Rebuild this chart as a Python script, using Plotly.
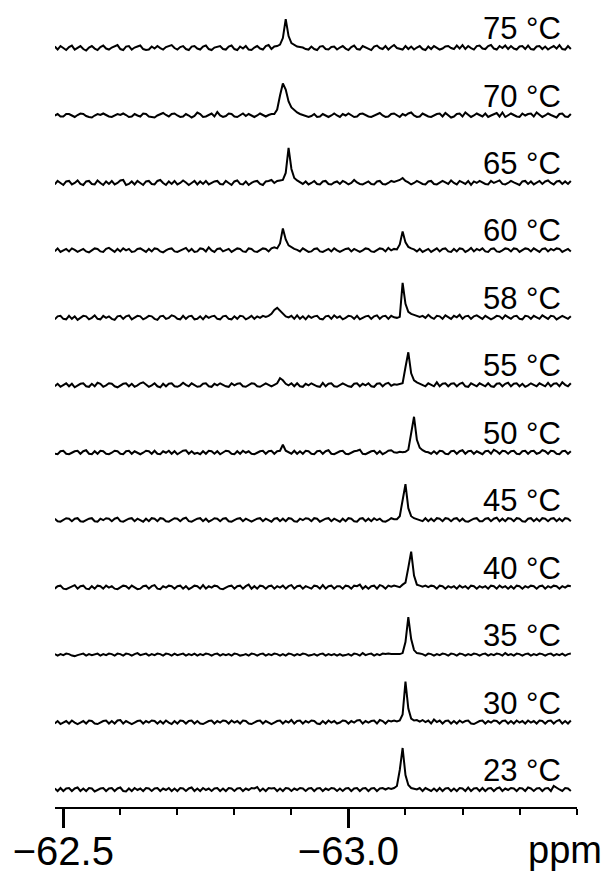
import numpy as np
import plotly.graph_objects as go

# 19F NMR spectra recorded at different temperatures (stacked, bottom = lowest T)
PPM_START = -62.485   # chemical shift of the first sample
PPM_STEP = -0.005     # spacing between samples (ppm)

temperatures = [23, 30, 35, 40, 45, 50, 55, 58, 60, 65, 70, 75]

tick_values = [-62.5, -63.0]
tick_labels = ["\u221262.5", "\u221263.0"]

spec_75 = [
    1.5, -1.5, 2, -0.5, -2, 1, 2.5, -1.5, 0.5, 2,
    -1, -2.5, 0.5, 2, -0.5, -2, 1, 2.5, -0.5, -1.5,
    0.5, 2, 3, -1, -2, 1.5, 2, -1.5, 0.5, 1.5,
    2.5, -1, -2, -1.5, 1.5, -0.5, 2, 0, -1.5, 1,
    2, 3, 0, -1.5, 1, 2, -1, -2, 1.5, 2,
    -0.5, -1.5, 1.5, 2.5, -1, -2, 0.5, 1.5, 2, -1,
    -1.5, 1.5, 2.5, -1, -2, 1.5, -0.5, 2, -1.5, -2,
    0.5, 2, -0.5, -1.5, 2, 3, -1, 1.5, 2, 3.5,
    10, 29, 12, 5, 3, 1.5, 1, 0.5, -1, -1.5,
    1.5, -1, -2, 1.5, 2, -1, -1.5, 1, 1.5, -1.5,
    0.5, 2, -0.5, -2, 1, 2.5, -1, -1.5, 2, 0.5,
    -1, -2, 1.5, 2.5, 0, -1, 2, -1.5, 1, 3,
    0, -1, -1.5, 2, -1, 1.5, -1.5, 0.5, 2, -1,
    -2, 1.5, -1, 2, 0.5, -1.5, -0.5, 1.5, 2, 0,
    -1, 2.5, -0.5, 3, -1, 2, 0, -1.5, 2, 2.5,
    -0.5, -1, 2, 3, -0.5, -1.5, 2, 0, 2.5, -1,
    2, -0.5, -1.5, 1.5, 2, -1, 2.5, -1, -1.5, 1.5,
    2, -1, 1.5, -1.5, 0.5, 2, -0.5, 3, -1, -1.5,
    2, -1,
]

spec_70 = [
    0, 1.5, -1, -1, 1.5, 1.5, 0, -1.5, 0.5, 2,
    1.5, -0.5, -1.5, -2, 0, 1.5, 0.5, 2, 0.5, -1,
    -1.5, 0, 1.5, 0.5, 2, 0.5, -1.5, -1, 1.5, 0,
    -1, 2, 1.5, -1, -1.5, -2, 0, 1.5, 2.5, 0.5,
    -1, 1.5, 2, 0, -1.5, -1, 1.5, 0, -2, -0.5,
    3, 1.5, -1.5, -1, 0.5, 2, -1, 3.5, 0, -1.5,
    -0.5, 2, 1.5, -1, -1.5, 0.5, 2, -0.5, 1.5, 0,
    -1.5, 0, 2, 0.5, -1, 0.5, 1.5, 1.5, 6, 20,
    32, 26, 14, 8, 5, 3, 1.5, 0.5, -1, -1.5,
    -0.5, 1.5, -1.5, -1, 1.5, 0, -1.5, 0, 2, 0,
    -1.5, 1.5, 0, 2, 0, -1.5, -1, 1.5, 2, 0.5,
    -1, -1.5, 0, 1.5, 2.5, 0, -1.5, -1, 1.5, 2,
    0, -1.5, 1.5, 0, 2, 3, 0, -1.5, -1, 2,
    0.5, -1, -1.5, 0, 1.5, 2, -1, 2.5, 0.5, -2,
    -1, 1.5, 2, -1, 3, 0.5, -1.5, 0, 2, 0.5,
    -1, 2, -1.5, 0, 1.5, 2.5, -1, 3, -1.5, 0,
    2, 0.5, -1, -1.5, 2, 0, 1.5, 2, -1, 3,
    0.5, -1.5, 0, 2, 0.5, -1, -2, 1.5, 2, -1,
    -1.5, 1.5,
]

spec_65 = [
    -1.5, 2, 0, -2, 1.5, 2, -1.5, 0, 2.5, -1,
    -2, 1.5, 2, -1, -1.5, 2.5, 0, -2, 1.5, -1,
    2, -1.5, 0, 2.5, 3, -2, -1, 1.5, -1.5, 2,
    0, -2, 1.5, 2, -1, -1.5, 2, 3, 0, -2,
    1.5, -1, 2, -1.5, 0, 2.5, 0.5, -2, 0, 2,
    -1.5, 1.5, -1, 2, -1.5, 0, 1.5, 2, -1, -1.5,
    2, 0, -2, 1.5, 2.5, -1, -1.5, 1.5, -2, 0,
    1.5, 2, -1, -2, 1.5, 2, 3, 0, 2, 2.5,
    3, 10, 35, 14, 5, 2.5, 1, -1, 1.5, -1.5,
    0, 2, -1, -1.5, 1.5, 2, -1, -1.5, 0.5, 1.5,
    -1, 2, 0.5, -1.5, 0, 3, 0.5, -1, -1.5, 0,
    1.5, -1, -1.5, 1.5, 2, -1, -1.5, 0, 2, 1,
    2, 3, 5, 2, 0.5, -1.5, 0, 2, 0.5, -1,
    -1.5, 1.5, 2, -1, -1.5, 0, 2, 0.5, -1, 2.5,
    0, -1.5, 2, 0.5, -1, 2, -2, 1.5, 0, 2,
    0.5, -1, -1.5, 2, 0, 1.5, 2.5, -1, -1.5, 0,
    2, 0.5, -1, -2, 1.5, 2, -1, 1.5, -1.5, 0,
    2, -1, 1.5, 2.5, 0, -1.5, 1.5, 2, -1, 1.5,
    -1, 2,
]

spec_60 = [
    -1, 2, -1.5, 0, 1.5, -1, 2, 0.5, -1.5, 0,
    1.5, -1, -2, 0, 2, 1.5, -1, -1.5, 1.5, 2.5,
    0, -1.5, 1.5, -1, 2, 0, 1.5, -1.5, -1, 1.5,
    2, 0, -1.5, 1.5, -1, 2, 1.5, -1, -2, 0,
    1.5, 2, -1, -1.5, 0, 1.5, 2.5, -1, 1.5, -1.5,
    -1, 2, 1.5, -1, 3, 0, -1.5, 1.5, 2, -1,
    0, 1.5, -1.5, 0, 2, 1.5, -1, -1.5, 2, 1.5,
    -1, -1.5, 0, 2, 1.5, -1, 2, 3, 2, 7,
    22, 11, 5, 3, 1.5, 0.5, -1, 2, 0, -1.5,
    -1, 1.5, 2, -1, -1.5, 0, 1.5, -1, 2, 0,
    -1.5, 0, 1.5, 2, -1, 1.5, 0, -1.5, 0, 2,
    1.5, -1, -1.5, 0, 2, 1.5, -1, 2.5, 0, 1.5,
    1, 6, 19, 8, 3.5, 2, 1, -1, 1.5, -1.5,
    0, 1.5, -1.5, 0, 2, -1, 1.5, 2, -1, -1.5,
    1.5, -1, 2, 1.5, -1.5, 0, 2.5, -1, 1.5, 0,
    2, -1, -1.5, 1.5, 2, -1, -1.5, 0, 2, 1.5,
    -1, 2, 1.5, -1.5, 0, 2, 1.5, -1, 2, 0,
    -1.5, 1.5, 2, -1, 1.5, 0, 2, 1.5, -1.5, 0,
    1.5, -1,
]

spec_58 = [
    -1.5, 1.5, 2, -1, -1.5, 2, -1, 1.5, -2, 0,
    2, 1.5, -1.5, 0, 2.5, -1, -1.5, 2, 0, 1.5,
    -1, -2, 1.5, 2, -1, 1.5, 2.5, -1.5, 0, 2,
    1.5, -1.5, 0, 2, 1.5, -1, -2, 1.5, 2, -1,
    0, 2.5, 1.5, -1, -1.5, 2, -1, 1.5, 2, -1.5,
    -1, 1.5, -1.5, 2, 0, 1.5, 2, -1, -1.5, 1.5,
    2, -1, -1.5, 1.5, -1, 2, 1.5, -1.5, 0, 2,
    -1, 1.5, 0, 2, 1, 2, 4, 8, 10, 7,
    4, 1.5, 0.5, 2, -1, 2.5, -1, 1.5, -1.5, 2,
    0, 1.5, 2, -1, -1.5, 1.5, 2, -1, 2.5, 0,
    1.5, -1.5, 0, 2, 1.5, -1, 2, -1.5, 0, 1.5,
    2, -1, 1.5, 2.5, -1, 1.5, 2, -1, 2, 0.5,
    0, 1, 35, 14, 6, 4, 3, 2, 1, 2,
    0, 3, 0.5, -1, 2, 1.5, -1, 2.5, 0.5, -1,
    2, 0.5, 3, -1, 1.5, 2, -1, 1.5, 2.5, 0.5,
    -1, 2, 0.5, -1.5, 0, 2, 1.5, -1, 2.5, 0.5,
    -1, 1.5, 2, -1, -1.5, 2, 1.5, -1, 2, 0.5,
    -1, 2.5, 0.5, -1, 2, 1.5, -1.5, 0, 2, 0.5,
    -1, 1.5,
]

spec_55 = [
    -1, 1.5, -1.5, 0, 2, -1, 1.5, -2, 0, 1.5,
    2, -1, -1.5, 1.5, -1, 2.5, 1.5, -1.5, 0, 2,
    1.5, -1, -2, 0, 1.5, 2, -1, 1.5, -1.5, 0,
    2, 3, 0.5, -1.5, 0, 2, -1, -2, 1.5, -1,
    1.5, 2, -1, -1.5, 0, 2.5, 0.5, -1, 2, 0,
    -1.5, -1, 1.5, 2, -1, -1.5, 1.5, 0, 2, 0.5,
    -1, -1.5, 2, 0, 1.5, 2, -1, -1.5, 0, 2,
    1.5, -1, -1.5, 0, 2, 0.5, -1, 0.5, 2, 7,
    5, 1.5, 0, 2, -1, 2, -1, -1.5, 1.5, 0,
    2, 0.5, -1, -1.5, 2.5, -1, 1.5, 2, -1, -1.5,
    0, 2, 0.5, -1, -1.5, 1.5, 2, -1, 1.5, 0,
    2, -1, -1.5, 1.5, 2, -1, 1.5, 2.5, -0.5, 1,
    0.5, 1, 2, 18, 33, 12, 5, 3, 1.5, 0.5,
    -1, 2, 0.5, -1, 3, -1, 1.5, 2, -1, 1.5,
    2, -1, 1.5, 2.5, -1, -1.5, 2, 0.5, -1, 2,
    0.5, -1, 2, -1, -1.5, 1.5, 2, -1, 1.5, 2.5,
    -1, 1.5, 2, -1, 1.5, -1.5, 0, 2, 0.5, -1,
    2, 0.5, -1, 2.5, -1, 1.5, 2, -1, 3, 0.5,
    -1, 2,
]

spec_50 = [
    -1, -1.5, 1.5, 2, -1, -1.5, 0, 1.5, 2, -1,
    1.5, 2.5, -1, -1.5, 1.5, -1, 2, 1.5, -1, -1.5,
    0, 2, 1.5, -1, -1.5, 1.5, 2, -1, 1.5, 0,
    -1.5, 0, 2, 1.5, -1, 2, -1, -1.5, 1.5, 0,
    2, -1, 1.5, -1.5, 0, 2, 2.5, -1, 1.5, -1,
    0, -1.5, 1.5, -1, 2, 1.5, -1, 1.5, -1.5, 0,
    2, 1.5, -1, -1.5, 1.5, -1, 2, 0, 1.5, -1,
    -1.5, 0, 1.5, 2, -1, 1.5, 2, -1, 1.5, 2,
    8, 2, 0.5, -1, 2, -1, 1.5, -1, 2, 1.5,
    -1, -1.5, 1.5, 2, -1, 1.5, 2.5, -1, -1.5, 0,
    1.5, 2, -1, -1.5, 0, 1.5, 2, 3, -1, -1.5,
    0, 1.5, 2, -1, 1.5, -1.5, 0, 2, 2.5, 0.5,
    0, 1, 0.5, 1, 3, 20, 36, 13, 5, 2.5,
    1, 0.5, -1, 1.5, -1, 2, 1.5, -1, -1.5, 1.5,
    2, -1, 1.5, 2.5, -1, 1.5, 2, -1, 1.5, 0,
    -1.5, 1.5, 2, -1, 3, 1.5, -1, 2, 1.5, -1,
    1.5, 2, -1, -1.5, 1.5, 2, -1, 1.5, 2, -1,
    0, 2.5, 1.5, -1, 2, 1.5, -1, -1.5, 1.5, 2,
    -1, 1.5,
]

spec_45 = [
    1.5, -1, -1.5, 0, 2, 1.5, -1, 1.5, 2, -1,
    -1.5, 0, 1.5, 2, -1, -1.5, 1.5, 0, 2, 1.5,
    -1, 1.5, 2.5, -1, -1.5, 0, 1.5, 2, -1, 1.5,
    0, -1.5, 1.5, -1, 2, 1.5, -1, 2, 1.5, -1,
    -1.5, 0, 2, 1.5, -1, 1.5, 2.5, -1, -1.5, 0,
    1.5, 2, -1, 1.5, -1.5, 0, 2, 1.5, -1, 1.5,
    2, -1, -1.5, 0, 1.5, 2, -1, 1.5, 0, -1.5,
    0, 1.5, 2, -1, 1.5, 0, -1.5, 1.5, 2, -1,
    1.5, -1, 2, 1.5, -1, -1.5, 1.5, 0, 2, 1.5,
    -1, 2, 1.5, -1.5, 0, 1.5, 2, -1, 1.5, 0,
    -1.5, 1.5, -1, 2, 1.5, -1, -1.5, 1.5, 2, -1,
    1.5, -1, 2, 0, 1.5, -1, -1.5, 0, 2, 1,
    1, 4, 19, 36, 12, 4, 2, 1, 0.5, -1,
    2, -1, 1.5, -1, 2, 1.5, -1, 2, 1.5, -1,
    1.5, 2, -1, 1.5, -1, -1.5, 0, 1.5, 2, -1,
    -1, 1.5, 2, -1, 1.5, 2.5, -1, 1.5, -1, 2,
    1.5, -1, 2, 1.5, -1, -1.5, 1.5, 2, -1, 1.5,
    -1, 2, 1.5, -1, 1.5, 2, -1, 1.5, -1, 2,
    1.5, -1,
]

spec_40 = [
    -1, 1.5, 2, -1, -1.5, 0, 1.5, 2.5, -1, 1.5,
    2, -1, -1.5, 1.5, -1, 2, 1.5, -1, 2, 0,
    1.5, -1, -1.5, 0, 2, 1.5, -1, 2, 0, -1.5,
    -1, 1.5, 2, -1, 1.5, 2.5, -1, -1.5, 1.5, 0,
    2, 1.5, -1, 1.5, 2, -1, 1.5, -1.5, 0, 2,
    1.5, -1, 2.5, -1, 1.5, 0, 2, 1.5, -1, -1.5,
    0, 1.5, 2, -1, 1.5, 2, -1, 1.5, 3, -1,
    1.5, -1, 2, 1.5, -1, 1.5, 2, -1, 1.5, 0,
    2, -1, 1.5, 2.5, -1, 1.5, 2, -1, 1.5, 0,
    -1, 2, 1.5, -1, 2.5, -1, 1.5, 2, -1, 1.5,
    1.5, -1, 2, 1.5, -1, 2, 1.5, 3, -1, 1.5,
    -1, 1.5, 2, -1, 2.5, 1.5, -1, 2, 1, 2,
    1, 0.5, 3, 5, 20, 36, 12, 3, 2, 1,
    2, 0.5, 2, 1.5, -1, 2, 1.5, -1, 1.5, 0,
    1.5, -1, 2, 0, 1.5, -1, 2, 1.5, -1, 1.5,
    0, 1.5, -1, 2, 1.5, -1, 2, 0, 1.5, -1,
    1.5, -1, 2, 1.5, -1, 1.5, 0, 2, 1.5, -1,
    1.5, 2, -1, 1.5, 0, 2, 1.5, -1, 1.5, 0,
    2, 1.5,
]

spec_35 = [
    1, -0.5, 1, 0, 1.5, 1, -0.5, -1, 0, 1,
    1.5, -0.5, 1, 0, 1, 1.5, -0.5, 1, 0, 1.5,
    1, -0.5, 1.5, 1, -0.5, 1.5, 1, -0.5, 1, 2,
    0, 1, 1.5, -0.5, 1, 0, 1.5, 1, -0.5, 1.5,
    1, -0.5, 1.5, 0, 1, 1.5, -0.5, 1, 0, 1.5,
    -0.5, 1, 0, 1.5, 1, -0.5, 1, 1.5, -0.5, 1,
    0, 1, -0.5, 1.5, 1, -0.5, 0, 1, -0.5, 1.5,
    1, -0.5, 1, 1.5, -0.5, 1, 0, 1.5, 1, -0.5,
    1, -0.5, 1.5, 1, -0.5, 1, 0, 1.5, 1, -0.5,
    0, 1, -0.5, 1, 1.5, -0.5, 1, 0, 1, -0.5,
    1, -0.5, 0, 1, -0.5, 1.5, 1, -0.5, 2, 0,
    1, 1.5, -0.5, 1, 0, 1.5, 1, 1.5, 1, 1,
    0.5, 1, 2, 13, 38, 16, 5, 2, 1.5, 1,
    -0.5, 1.5, 1, -0.5, 1, 0, 1.5, 1, -0.5, 1.5,
    1, -0.5, 1.5, 1, -0.5, 1, 0, 1.5, 1, -0.5,
    1, 1.5, -0.5, 1, 0, 1.5, 1, -0.5, 2, 0,
    1, -0.5, 1.5, 1, -0.5, 1, 1.5, -0.5, 1, 0,
    1.5, 1, -0.5, 1, 1.5, -0.5, 1, 0, 1.5, -0.5,
    1, 1.5,
]

spec_30 = [
    -1, 1.5, -1.5, 0, 1.5, -1, 2, 0, -1.5, 0,
    1.5, -1, 2, 1.5, -1, -1.5, 0, 1.5, 2, -1,
    1.5, -1, 2, 2.5, -1, 1.5, 0, -1.5, 0, 1.5,
    2, -1, 1.5, 0, 2, 1.5, -1, 1.5, -1, 2,
    0, -1.5, 1.5, -1, 2, 1.5, -1, 1.5, 2, -1,
    1.5, -1, -1.5, 0, 1.5, 2, -1, 1.5, 0, 2,
    1.5, -1, 2, 0, 1.5, -1, 2, 1.5, -1, -1.5,
    0, 1.5, 2, -1, 1.5, 0, -1.5, 0, 1.5, 2,
    -1, 1.5, 0, 2.5, -1, 1.5, 2, -1, 1.5, 0,
    2, 1.5, -1, -1.5, 1.5, -1, 2, 0, 1.5, -1,
    0, 2, 1.5, -1, 1.5, 0, 2, 2.5, -1, 1.5,
    0, 1.5, 2, -1, 2.5, 1.5, -1, 2, 1, 2,
    1, 2, 8, 41, 14, 4, 2, 2.5, 1, 2.5,
    0.5, 2, -1, 3, 0.5, 2, -1, 1.5, 2, -1,
    1.5, -1, 2, 0, 1.5, 2, -1, -1.5, 0, 1.5,
    2, -1, 1.5, 0, 2, 1.5, -1, 1.5, 2, -1,
    1.5, -1, 2, 0, 1.5, -1, 2, 0, 1.5, -1,
    2, 1.5, -1, 1.5, 2, -1, 1.5, 2.5, -1, 1.5,
    -1, 2,
]

spec_23 = [
    1.5, -1, 2, -1, 1.5, 2, -1, 1.5, 2.5, -1,
    1.5, -1, 2, 1.5, -1.5, 0, 1.5, 2, -1, 1.5,
    2, -1, 1.5, 2.5, -1, -1.5, 1.5, -1, 2, 0,
    1.5, -1, 2, 1.5, -1, 1.5, 2, -1, 1.5, 0,
    2, -1, 1.5, -1, 2, 1.5, -1, 1.5, 2.5, -1,
    1.5, -1, 2, 0, 1.5, -1, 1.5, 2, -1, 1.5,
    -1, 2, 1.5, -1, 1.5, 2, -1, 1.5, 0, 2,
    1.5, 3, -1, 1.5, -1, 2, 1.5, 2, -1, 1.5,
    -1, 2, 1.5, -1, 1.5, 0, 2, 1.5, -1, 1.5,
    2, -1, 1.5, 2, -1, 1.5, 0, 2, 1.5, -1,
    1.5, -1, 1.5, 2, -1, 1.5, 2, -1, 1.5, 2,
    -1, 1.5, 2, -1, 1.5, 2, 0.5, 2, 1, 2,
    4, 20, 42, 15, 5, 2, 1.5, 0.5, 2, -1,
    2, 0.5, -1, 1.5, -1, 2, -1, 1.5, 2, -1,
    1.5, -1, 2, 1.5, -1, 2.5, -1, 1.5, 2, -1,
    2, -1, 1.5, 2, -1, 1.5, 2.5, -1, 1.5, 0,
    2, 1.5, -1, 2, 1.5, -1, 2.5, 1.5, -1, 1.5,
    2, -1, 1.5, 2, -1, 4, 2, 0.5, -1, 2,
    1.5, -1,
]

spectra = [spec_23, spec_30, spec_35, spec_40, spec_45, spec_50,
           spec_55, spec_58, spec_60, spec_65, spec_70, spec_75]

# stacking geometry (y units are intensity units)
BASE0 = 17.0
STACK_STEP = 67.45

FONT = "Liberation Sans, Arial, Helvetica, sans-serif"

fig = go.Figure()
for i, (temp, spec) in enumerate(zip(temperatures, spectra)):
    y = np.asarray(spec, dtype=float)
    ppm = PPM_START + PPM_STEP * np.arange(len(y))
    base = BASE0 + STACK_STEP * i
    fig.add_trace(go.Scatter(
        x=ppm, y=y + base, mode="lines",
        line=dict(color="black", width=2),
        hoverinfo="skip", showlegend=False,
    ))
    fig.add_annotation(
        x=-63.377, y=base, xref="x", yref="y",
        text=f"{temp} \u00b0C", showarrow=False,
        xanchor="right", yanchor="bottom",
        font=dict(family=FONT, size=31, color="black"),
    )

fig.add_annotation(
    x=0.977, y=-0.053, xref="paper", yref="paper",
    text="ppm", showarrow=False, xanchor="center", yanchor="middle",
    font=dict(family=FONT, size=38, color="black"),
)

fig.update_layout(
    width=606, height=874,
    margin=dict(l=55, r=29, t=0, b=67),
    paper_bgcolor="white", plot_bgcolor="white",
    showlegend=False,
    font=dict(family=FONT, color="black"),
    xaxis=dict(
        range=[-62.4854, -63.4008],
        automargin=False,
        showgrid=False, zeroline=False,
        showline=True, linecolor="black", linewidth=2,
        ticks="outside", ticklen=19, tickwidth=2.5, tickcolor="black",
        tickvals=tick_values, ticktext=tick_labels,
        tickfont=dict(family=FONT, size=40, color="black"),
        ticklabelstandoff=-11,
        minor=dict(ticks="outside", ticklen=6, tickwidth=2, tickcolor="black",
                   dtick=0.1, tick0=-62.5, showgrid=False),
    ),
    yaxis=dict(range=[0, 807], visible=False, fixedrange=True, automargin=False),
)

fig.write_html("out.html")
